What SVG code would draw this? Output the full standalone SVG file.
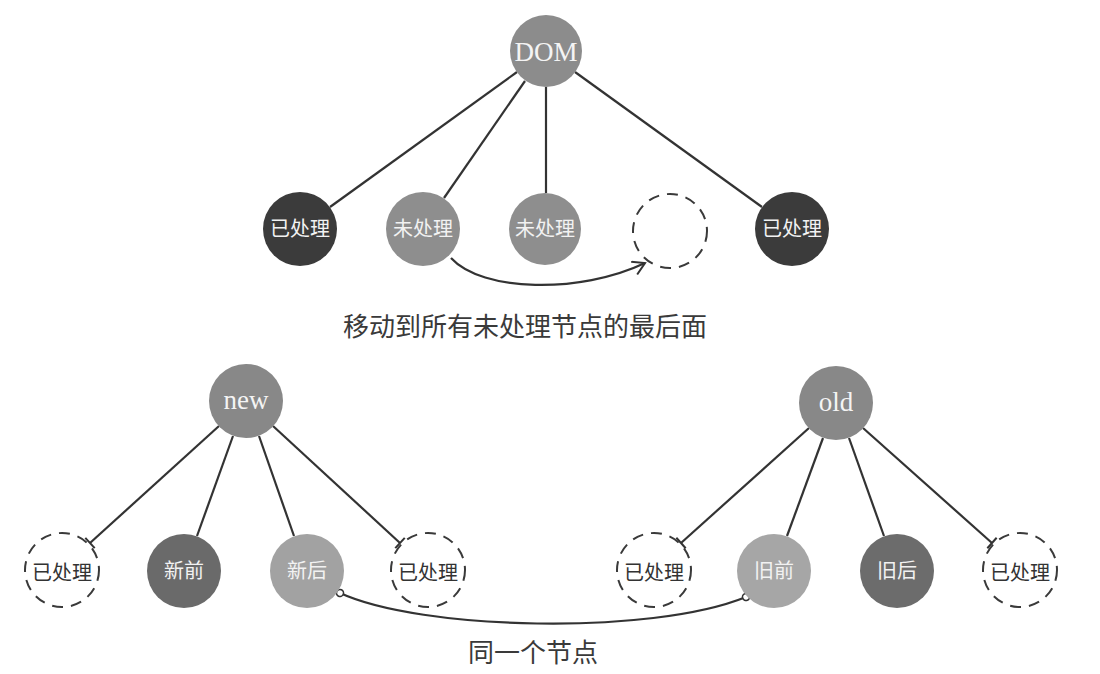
<svg xmlns="http://www.w3.org/2000/svg" width="1100" height="674" viewBox="0 0 1100 674">
<style>
.edge{stroke:#333;stroke-width:2.2;fill:none}
.dash{fill:none;stroke:#3a3a3a;stroke-width:2;stroke-dasharray:11 8}
.lbl{font-family:"Liberation Serif","Noto Sans CJK SC",serif;font-size:20px;fill:#f2f2f2;text-anchor:middle;dominant-baseline:central}
.big{font-family:"Liberation Serif","Noto Sans CJK SC",serif;font-size:27px;fill:#f4f4f4;text-anchor:middle;dominant-baseline:central}
.dl{font-family:"Noto Sans CJK SC",sans-serif;font-size:20px;fill:#333;text-anchor:middle;dominant-baseline:central}
.cap{font-family:"Noto Sans CJK SC",sans-serif;font-size:26px;fill:#3a3a3a;text-anchor:middle}
</style>
<defs>
<marker id="tick" viewBox="-2 -8 4 16" markerWidth="4" markerHeight="16" refX="0" refY="0" orient="auto" markerUnits="userSpaceOnUse">
<path d="M0,-7 L0,7" stroke="#333" stroke-width="2"/>
</marker>
<marker id="arrow" viewBox="-14 -8 16 16" markerWidth="16" markerHeight="16" refX="0" refY="0" orient="auto" markerUnits="userSpaceOnUse">
<path d="M-12,-7 L0,0 L-12,7" fill="none" stroke="#333" stroke-width="2"/>
</marker>
<marker id="dot" viewBox="-5 -5 10 10" markerWidth="10" markerHeight="10" refX="0" refY="0" orient="auto" markerUnits="userSpaceOnUse">
<circle cx="0" cy="0" r="3.5" fill="#fff" stroke="#333" stroke-width="1.6"/>
</marker>
</defs>
<rect width="1100" height="674" fill="#fff"/>
<g id="connectors">
<line class="edge" x1="517" y1="72" x2="330" y2="207"/>
<line class="edge" x1="525" y1="81" x2="444" y2="198"/>
<line class="edge" x1="546" y1="87" x2="546" y2="193"/>
<line class="edge" x1="575" y1="72" x2="762" y2="207"/>
<path class="edge" d="M451,258 C482,292 580,294 645,263" marker-end="url(#arrow)"/>
<line class="edge" x1="219" y1="426" x2="90" y2="543" marker-end="url(#tick)"/>
<line class="edge" x1="233" y1="436" x2="197" y2="536"/>
<line class="edge" x1="259" y1="436" x2="294" y2="536"/>
<line class="edge" x1="273" y1="426" x2="400" y2="543" marker-end="url(#tick)"/>
<line class="edge" x1="809" y1="428" x2="681" y2="543" marker-end="url(#tick)"/>
<line class="edge" x1="823" y1="438" x2="787" y2="536"/>
<line class="edge" x1="849" y1="438" x2="884" y2="536"/>
<line class="edge" x1="863" y1="428" x2="992" y2="543" marker-end="url(#tick)"/>
<path class="edge" d="M340,593 C420,630 650,636 746,597" marker-start="url(#dot)" marker-end="url(#dot)"/>
</g>
<g id="dom"><circle cx="546" cy="51" r="36" fill="#8c8c8c"/><text class="big" x="546" y="52">DOM</text></g>
<g id="t1"><circle cx="300" cy="229" r="37" fill="#3b3b3b"/><text class="lbl" x="300" y="229">已处理</text></g>
<g id="t2"><circle cx="423" cy="229" r="37" fill="#8e8e8e"/><text class="lbl" x="423" y="229">未处理</text></g>
<g id="t3"><circle cx="545" cy="229" r="36" fill="#8e8e8e"/><text class="lbl" x="545" y="229">未处理</text></g>
<g id="t4"><circle class="dash" cx="670" cy="231" r="37"/></g>
<g id="t5"><circle cx="792" cy="229" r="37" fill="#3b3b3b"/><text class="lbl" x="792" y="229">已处理</text></g>
<text class="cap" x="525" y="336">移动到所有未处理节点的最后面</text>
<g id="new"><circle cx="246" cy="401" r="37" fill="#888"/><text class="big" x="246" y="400">new</text></g>
<g id="old"><circle cx="836" cy="403" r="37" fill="#888"/><text class="big" x="836" y="402">old</text></g>
<g id="n1"><circle class="dash" cx="62" cy="570" r="37"/><text class="dl" x="62" y="571">已处理</text></g>
<g id="n2"><circle cx="184" cy="571" r="37" fill="#6a6a6a"/><text class="lbl" x="184" y="571">新前</text></g>
<g id="n3"><circle cx="307" cy="571" r="37" fill="#a2a2a2"/><text class="lbl" x="307" y="571">新后</text></g>
<g id="n4"><circle class="dash" cx="428" cy="570" r="37"/><text class="dl" x="428" y="571">已处理</text></g>
<g id="o1"><circle class="dash" cx="654" cy="570" r="37"/><text class="dl" x="654" y="571">已处理</text></g>
<g id="o2"><circle cx="774" cy="571" r="37" fill="#a6a6a6"/><text class="lbl" x="774" y="571">旧前</text></g>
<g id="o3"><circle cx="897" cy="571" r="37" fill="#6c6c6c"/><text class="lbl" x="897" y="571">旧后</text></g>
<g id="o4"><circle class="dash" cx="1020" cy="570" r="37"/><text class="dl" x="1020" y="571">已处理</text></g>
<text class="cap" x="533" y="662">同一个节点</text>
</svg>
